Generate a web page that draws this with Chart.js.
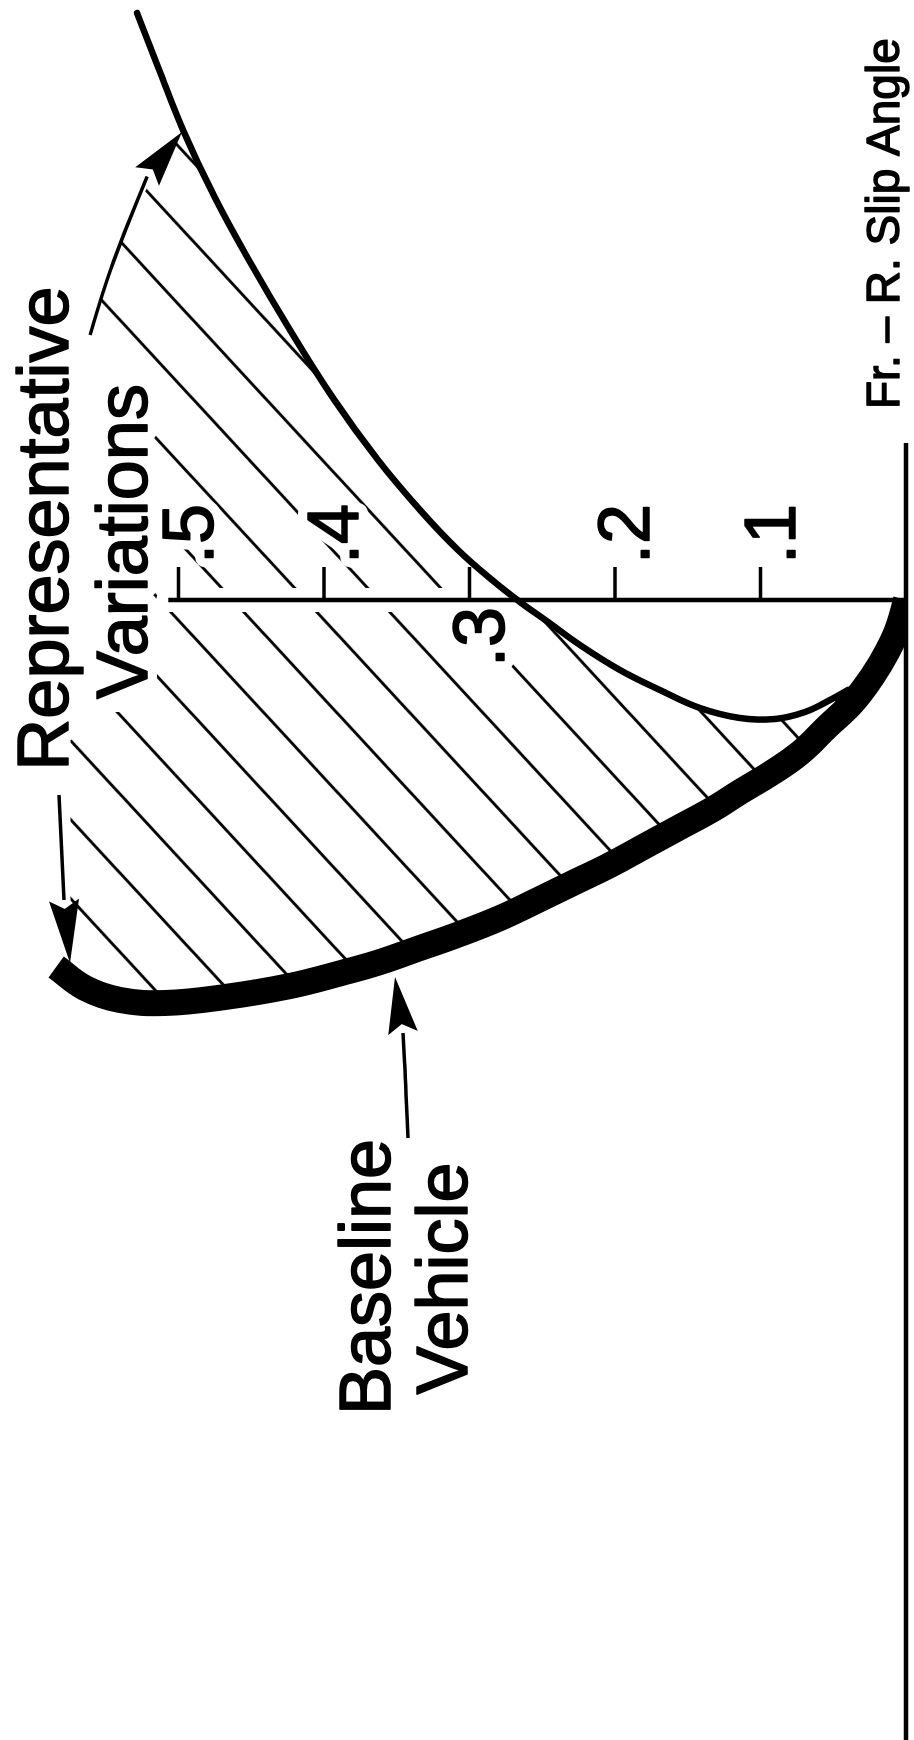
<!DOCTYPE html>
<html>
<head>
<meta charset="utf-8">
<style>
html,body{margin:0;padding:0;background:#fff;overflow:hidden;width:914px;height:1740px;}
#wrap{position:absolute;left:0;top:0;width:1740px;height:914px;transform-origin:0 0;transform:translate(0px,1740px) rotate(-90deg);}
canvas{display:block;}
</style>
<script src="https://cdn.jsdelivr.net/npm/chart.js@4.4.1/dist/chart.umd.min.js"></script>
</head>
<body>
<div id="wrap"><canvas id="c" width="1740" height="914"></canvas></div>
<script>
// ---------------- data ----------------
const slipAxisTitle = 'Fr. \u2013 R. Slip Angle';
const yTickValues = [0.1, 0.2, 0.3, 0.4, 0.5];
const yTickLabels = ['.1', '.2', '.3', '.4', '.5'];

// Baseline vehicle (thick curve): slip-angle difference vs lateral acceleration
const baselineSlip = [0, -0.14, -0.26, -0.385, -0.51, -0.63, -0.765, -0.87, -0.96, -1.045, -1.135, -1.23, -1.325, -1.41, -1.495, -1.59, -1.675, -1.74, -1.81, -1.86, -1.93, -1.985, -2.015, -2.0, -1.94, -1.835];
const baselineAy   = [0, 0.0055, 0.0131, 0.0234, 0.0364, 0.0536, 0.0729, 0.0935, 0.1141, 0.1326, 0.1553, 0.1794, 0.2034, 0.2275, 0.2515, 0.2790, 0.3086, 0.3340, 0.3615, 0.3856, 0.4234, 0.4680, 0.5093, 0.5402, 0.5643, 0.5842];

// Representative variation (thin curve)
const variationSlip = [2.935, 2.665, 2.35, 2.01, 1.69, 1.35, 1.01, 0.70, 0.45, 0.25, 0.10, -0.01, -0.11, -0.225, -0.35, -0.45, -0.54, -0.59, -0.595, -0.56, -0.50, -0.45];
const variationAy   = [0.5285, 0.5141, 0.4969, 0.4749, 0.4509, 0.4234, 0.3938, 0.3629, 0.3340, 0.3079, 0.2845, 0.2653, 0.2460, 0.2241, 0.1966, 0.1691, 0.1416, 0.1141, 0.0900, 0.0694, 0.0522, 0.0399];

// Outer edge of the hatched band (between the two curves)
const hatchEdgeSlip = [-1.775, -0.56, -0.56, 1.05, 1.30, 1.55, 1.835, 2.065, 2.225];
const hatchEdgeAy   = [0.5743, 0.5743, 0.5194, 0.5194, 0.5592, 0.5516, 0.5379, 0.5214, 0.5091];

const noteTexts = ['Representative', 'Variations', 'Baseline', 'Vehicle'];

// ---------------- build ----------------
const toPts = (xs, ys) => xs.map((x, i) => ({x: x, y: ys[i]}));
const baselinePts = toPts(baselineSlip, baselineAy);
const variationPts = toPts(variationSlip, variationAy);
const hatchPts = variationPts.slice(2)
  .concat(baselinePts.slice(5))
  .concat(toPts(hatchEdgeSlip, hatchEdgeAy));

const canvas = document.getElementById('c');
const ctx0 = canvas.getContext('2d');

function makeHatch() {
  const W = 79, H = 73;
  const t = document.createElement('canvas');
  t.width = W; t.height = H;
  const g = t.getContext('2d');
  g.strokeStyle = '#000';
  g.lineWidth = 2.8;
  for (const dx of [-W, 0, W]) {
    g.beginPath();
    g.moveTo(dx - W, 2 * H);
    g.lineTo(dx + 2 * W, -H);
    g.stroke();
  }
  const p = ctx0.createPattern(t, 'repeat');
  if (p.setTransform) p.setTransform(new DOMMatrix().translate(0, 45.1));
  return p;
}

const FONT_BIG = '72px "Liberation Sans", Arial, sans-serif';
const FONT_TITLE = '46px "Liberation Sans", Arial, sans-serif';

function P(ch, x, y) { return [ch.scales.x.getPixelForValue(x), ch.scales.y.getPixelForValue(y)]; }
function seg(ctx, a, b) { ctx.beginPath(); ctx.moveTo(a[0], a[1]); ctx.lineTo(b[0], b[1]); ctx.stroke(); }

function tickLabelSpecs(ch, o) {
  const ax = ch.scales.x.getPixelForValue(0);
  return yTickValues.map((v, i) => {
    const py = ch.scales.y.getPixelForValue(v) + o.labelDrop;
    const left = o.leftLabels.includes(yTickLabels[i]);
    return {text: yTickLabels[i], x: left ? ax - o.leftGap : ax + o.rightGap, y: py, align: left ? 'right' : 'left'};
  });
}
function noteSpecs(ch, o) {
  return o.notes.map((n, i) => {
    const p = P(ch, n[0], n[1]);
    return {text: noteTexts[i], x: p[0], y: p[1], align: 'center'};
  });
}
function drawTexts(ctx, specs, font, halo, weight) {
  ctx.font = font;
  ctx.textBaseline = 'alphabetic';
  for (const s of specs) {
    ctx.textAlign = s.align;
    if (halo) {
      ctx.strokeText(s.text, s.x, s.y);
    } else {
      ctx.fillText(s.text, s.x, s.y);
      if (weight) { ctx.lineWidth = weight; ctx.lineJoin = 'round'; ctx.strokeText(s.text, s.x, s.y); }
    }
  }
}
function drawArrow(ctx, ch, a, o) {
  const pts = a.pts.map(p => P(ch, p[0], p[1]));
  const tip = P(ch, a.tip[0], a.tip[1]);
  const base = pts[pts.length - 1];
  ctx.lineWidth = o.arrowWidth;
  ctx.lineCap = 'butt';
  ctx.lineJoin = 'round';
  ctx.beginPath();
  ctx.moveTo(pts[0][0], pts[0][1]);
  if (pts.length === 2) {
    ctx.lineTo(base[0], base[1]);
  } else {
    for (let i = 1; i < pts.length - 1; i++) {
      const mx = (pts[i][0] + pts[i + 1][0]) / 2, my = (pts[i][1] + pts[i + 1][1]) / 2;
      ctx.quadraticCurveTo(pts[i][0], pts[i][1], mx, my);
    }
    ctx.lineTo(base[0], base[1]);
  }
  ctx.stroke();
  const dx = tip[0] - base[0], dy = tip[1] - base[1];
  const L = Math.hypot(dx, dy), ux = dx / L, uy = dy / L;
  const nx = -uy, ny = ux, h = o.headHalf, notch = o.headNotch;
  ctx.beginPath();
  ctx.moveTo(tip[0], tip[1]);
  ctx.lineTo(base[0] + nx * h, base[1] + ny * h);
  ctx.lineTo(base[0] + ux * notch, base[1] + uy * notch);
  ctx.lineTo(base[0] - nx * h, base[1] - ny * h);
  ctx.closePath();
  ctx.fill();
}

const decor = {
  id: 'decor',
  afterDatasetDraw(ch, args, o) {
    if (args.index !== 2) return;           // right after the hatching
    const ctx = ch.ctx;
    ctx.save();
    ctx.strokeStyle = '#fff';
    ctx.lineJoin = 'round';
    ctx.lineCap = 'round';
    ctx.lineWidth = o.axisHalo;
    seg(ctx, P(ch, 0, 0), P(ch, 0, o.yAxisTop));
    ctx.lineWidth = o.tickHalo;
    for (const v of yTickValues) seg(ctx, P(ch, 0, v), P(ch, o.tickLen, v));
    ctx.lineWidth = o.textHalo;
    drawTexts(ctx, tickLabelSpecs(ch, o), FONT_BIG, true);
    drawTexts(ctx, noteSpecs(ch, o), FONT_BIG, true);
    ctx.restore();
  },
  afterDatasetsDraw(ch, args, o) {
    const ctx = ch.ctx;
    ctx.save();
    ctx.strokeStyle = '#000';
    ctx.fillStyle = '#000';
    ctx.lineCap = 'butt';
    // slip-angle axis (y = 0)
    ctx.lineWidth = o.axisWidth;
    seg(ctx, P(ch, ch.scales.x.min, 0), P(ch, o.xAxisEnd, 0));
    // lateral axis (x = 0)
    seg(ctx, P(ch, 0, 0), P(ch, 0, o.yAxisTop));
    ctx.lineWidth = o.tickWidth;
    for (const v of yTickValues) seg(ctx, P(ch, 0, v), P(ch, o.tickLen, v));
    drawTexts(ctx, tickLabelSpecs(ch, o), FONT_BIG, false, o.textWeight);
    drawTexts(ctx, noteSpecs(ch, o), FONT_BIG, false, o.textWeight);
    const tp = P(ch, o.titleAt[0], o.titleAt[1]);
    drawTexts(ctx, [{text: slipAxisTitle, x: tp[0], y: tp[1], align: 'left'}], FONT_TITLE, false, o.titleWeight);
    for (const a of o.arrows) drawArrow(ctx, ch, a, o);
    ctx.restore();
  }
};

new Chart(canvas, {
  type: 'scatter',
  data: {
    datasets: [
      {
        label: 'Baseline Vehicle',
        data: baselinePts,
        showLine: true,
        borderColor: '#000',
        borderWidth: 26,
        borderCapStyle: 'butt',
        borderJoinStyle: 'round',
        tension: 0.4,
        pointRadius: 0,
        fill: false,
        clip: {left: false, top: false, right: false, bottom: 0},
        order: 0
      },
      {
        label: 'Representative Variations',
        data: variationPts,
        showLine: true,
        borderColor: '#000',
        borderWidth: 6.5,
        borderCapStyle: 'round',
        borderJoinStyle: 'round',
        tension: 0.4,
        pointRadius: 0,
        fill: false,
        clip: false,
        order: 1
      },
      {
        label: 'range',
        data: hatchPts,
        showLine: true,
        borderWidth: 0,
        borderColor: 'rgba(0,0,0,0)',
        backgroundColor: makeHatch(),
        fill: 'shape',
        tension: 0,
        pointRadius: 0,
        order: 10
      }
    ]
  },
  options: {
    responsive: false,
    devicePixelRatio: 1,
    animation: false,
    events: [],
    layout: {padding: {left: 0, right: 0, top: 0, bottom: 8}},
    scales: {
      x: {type: 'linear', min: -5.7, max: 3.0, display: false},
      y: {type: 'linear', min: 0, max: 0.6227, display: false}
    },
    plugins: {
      legend: {display: false},
      tooltip: {enabled: false},
      decor: {
        yAxisTop: 0.507,
        xAxisEnd: 0.785,
        tickLen: 0.165,
        axisWidth: 4.5,
        tickWidth: 3.5,
        axisHalo: 24,
        tickHalo: 20,
        textHalo: 20,
        textWeight: 1.6,
        titleWeight: 1.4,
        labelDrop: 34,
        rightGap: 36,
        leftGap: 7,
        leftLabels: ['.3'],
        titleAt: [0.955, 0.0048],
        notes: [[0.3575, 0.5759], [0.2925, 0.5216], [-3.385, 0.3546], [-3.3925, 0.3017]],
        arrowWidth: 3.5,
        headHalf: 15,
        headNotch: 9,
        arrows: [
          {pts: [[-0.975, 0.5821], [-1.50, 0.5787]], tip: [-1.815, 0.5746]},
          {pts: [[1.325, 0.5608], [1.55, 0.5519], [1.835, 0.5375], [2.1175, 0.5216]], tip: [2.34, 0.4976]},
          {pts: [[-2.69, 0.3423], [-2.45, 0.3436], [-2.165, 0.3457]], tip: [-1.885, 0.3512]}
        ]
      }
    }
  },
  plugins: [decor]
});
</script>
</body>
</html>
